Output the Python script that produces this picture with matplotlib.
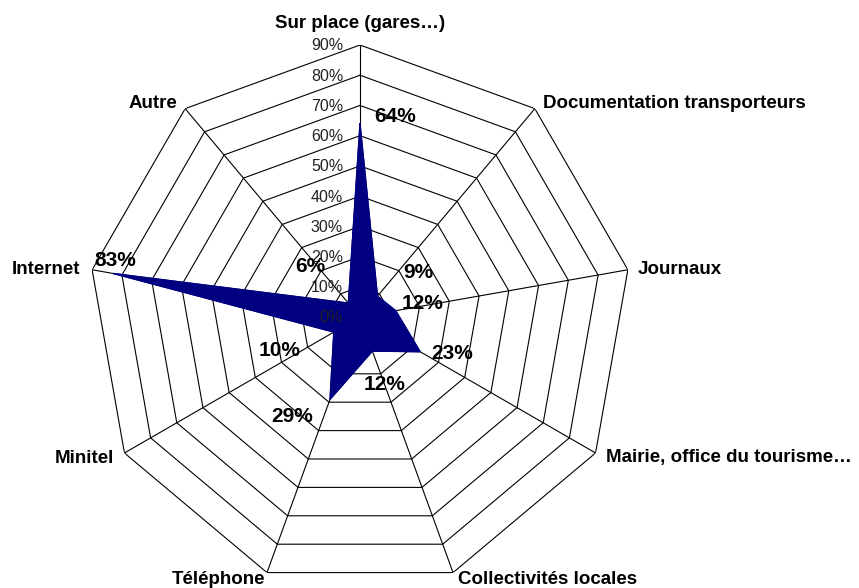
import numpy as np
import matplotlib
matplotlib.use('Agg')
import matplotlib.pyplot as plt

plt.rcParams['font.family'] = ['Liberation Sans', 'DejaVu Sans']

categories = ["Sur place (gares…)", "Documentation transporteurs", "Journaux",
              "Mairie, office du tourisme…", "Collectivités locales", "Téléphone",
              "Minitel", "Internet", "Autre"]
values = [0.64, 0.09, 0.12, 0.23, 0.12, 0.29, 0.10, 0.83, 0.06]
value_labels = ["64%", "9%", "12%", "23%", "12%", "29%", "10%", "83%", "6%"]
rings = [0.1, 0.2, 0.3, 0.4, 0.5, 0.6, 0.7, 0.8, 0.9]
ring_labels = ["0%", "10%", "20%", "30%", "40%", "50%", "60%", "70%", "80%", "90%"]

# label offsets in pixels (dx, dy) from the data point
lab_off = [(35, 7), (41, 24), (27, 7), (32, -2), (12, -33), (-38, -17), (-54, -18), (2, 13), (-38, 37)]
# category label offsets and alignment
cat_off = [(0, 22, 'center'), (8, 5, 'left'), (10, 0, 'left'), (10, -5, 'left'),
           (5, -7, 'left'), (-2, -7, 'right'), (-10, -5, 'right'), (-12, 0, 'right'),
           (-8, 5, 'right')]

n = len(categories)
theta = np.arange(n) * 2 * np.pi / n

fig = plt.figure(figsize=(8.59, 5.88), dpi=100)
ax = fig.add_axes([88 / 859, (588 - 317 - 272) / 588, 544 / 859, 544 / 588], projection='polar')
ax.set_theta_zero_location('N')
ax.set_theta_direction(-1)
ax.set_ylim(0, 0.9)
ax.grid(False)
ax.set_xticks([])
ax.set_yticks([])
ax.spines['polar'].set_visible(False)

# polygon grid
tt = np.append(theta, theta[0])
for r in rings:
    ax.plot(tt, [r] * len(tt), color='black', lw=0.8, zorder=1)
for t in theta:
    ax.plot([t, t], [0, 0.9], color='black', lw=0.8, zorder=1)

# data
vv = values + values[:1]
ax.fill(tt, vv, color='#000080', zorder=2)
ax.plot(tt, vv, color='#000080', lw=0.8, zorder=2)

# tick labels
for i, lab in enumerate(ring_labels):
    ax.annotate(lab, xy=(0, i * 0.1), xytext=(-17, -1), textcoords='offset pixels',
                ha='right', va='center', fontsize=11.5, color='#222222', zorder=3)

for t, v, lab, (dx, dy) in zip(theta, values, value_labels, lab_off):
    ax.annotate(lab, xy=(t, v), xytext=(dx, dy), textcoords='offset pixels',
                ha='center', va='center', fontsize=15, fontweight='bold', zorder=4)

for t, cat, (dx, dy, ha) in zip(theta, categories, cat_off):
    ax.annotate(cat, xy=(t, 0.9), xytext=(dx, dy), textcoords='offset pixels',
                ha=ha, va='center', fontsize=13.5, fontweight='bold', annotation_clip=False)

fig.savefig('out.png', dpi=100)
